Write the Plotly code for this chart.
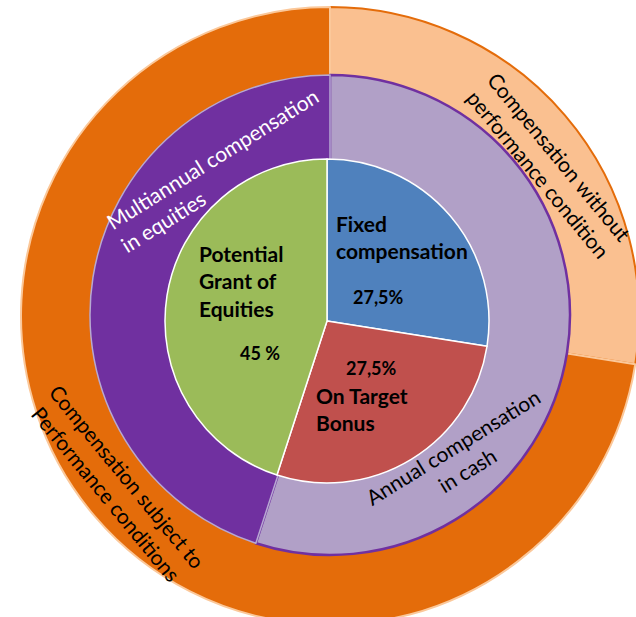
import plotly.graph_objects as go

# ---------------- data ----------------
inner_labels = ["Fixed<br>compensation", "On Target<br>Bonus", "Potential<br>Grant of<br>Equities"]
inner_values = [27.5, 27.5, 45]
inner_value_text = ["27,5%", "27,5%", "45 %"]

middle_labels = ["Annual compensation<br>in cash", "Multiannual compensation<br>in equities"]
middle_values = [55, 45]

outer_labels = ["Compensation without<br>performance condition",
                "Compensation subject to<br>Performance conditions"]
outer_values = [27.5, 72.5]

# ---------------- styling ----------------
inner_colors = ["#4F81BD", "#C0504D", "#9BBB59"]
middle_colors = ["#B1A0C7", "#7030A0"]
outer_colors = ["#FAC090", "#E46C0A"]

W, H = 660, 650
FONT = "Lato"


def dom(cx, cy, r):
    return dict(x=[(cx - r) / W, (cx + r) / W], y=[1 - (cy + r) / H, 1 - (cy - r) / H])


def px(x):
    return x / W


def py(y):
    return 1 - y / H


fig = go.Figure()

fig.add_trace(go.Pie(
    labels=outer_labels, values=outer_values, sort=False, direction="clockwise", rotation=0,
    hole=0.7, domain=dom(330, 316, 309), textinfo="none", hoverinfo="label",
    marker=dict(colors=outer_colors, line=dict(color=["#E46C0A", "#FBC89A"], width=[2, 2])),
    showlegend=False,
))
fig.add_trace(go.Pie(
    labels=middle_labels, values=middle_values, sort=False, direction="clockwise", rotation=0,
    hole=0.6, domain=dom(330, 315, 240), textinfo="none", hoverinfo="label",
    marker=dict(colors=middle_colors, line=dict(color=["#7030A0", "#B7A8D2"], width=[2.5, 1.5])),
    showlegend=False,
))
fig.add_trace(go.Pie(
    labels=inner_labels, values=inner_values, sort=False, direction="clockwise", rotation=0,
    domain=dom(327, 321, 162), textinfo="none", hoverinfo="label",
    marker=dict(colors=inner_colors, line=dict(color="white", width=1.5)),
    showlegend=False,
))

ann = []
# inner labels (bold, horizontal, left aligned)
inner_pos = [(334, 209), (314, 381), (197, 239)]
inner_val_pos = [(351, 284), (344, 355), (238, 340)]
for lab, (x, y) in zip(inner_labels, inner_pos):
    ann.append(dict(x=px(x), y=py(y), text="<b>" + lab + "</b>", xanchor="left", yanchor="top",
                    align="left", showarrow=False, font=dict(family=FONT, size=21, color="black")))
for lab, (x, y) in zip(inner_value_text, inner_val_pos):
    ann.append(dict(x=px(x), y=py(y), text="<b>" + lab + "</b>", xanchor="left", yanchor="top",
                    showarrow=False, font=dict(family=FONT, size=18, color="black")))

# ring labels (rotated)
ring = [
    (middle_labels[0], 460, 458, -31.6, "center", "black"),
    (middle_labels[1], 219, 170, -32, "left", "white"),
    (outer_labels[0], 549, 165, 50.5, "center", "black"),
    (outer_labels[1], 117, 485, 50.5, "center", "black"),
]
for text, x, y, ang, al, col in ring:
    ann.append(dict(x=px(x), y=py(y), text=text, textangle=ang, xanchor="center", yanchor="middle",
                    align=al, showarrow=False, font=dict(family=FONT, size=21, color=col)))

fig.update_layout(
    width=W, height=H, margin=dict(l=0, r=0, t=0, b=0),
    paper_bgcolor="white", plot_bgcolor="white",
    annotations=ann,
)

fig.write_html(
    "out.html",
    config={"displayModeBar": False},
    post_script="document.body.style.margin='0';document.body.style.overflow='hidden';"
                "document.documentElement.style.overflow='hidden';",
)
